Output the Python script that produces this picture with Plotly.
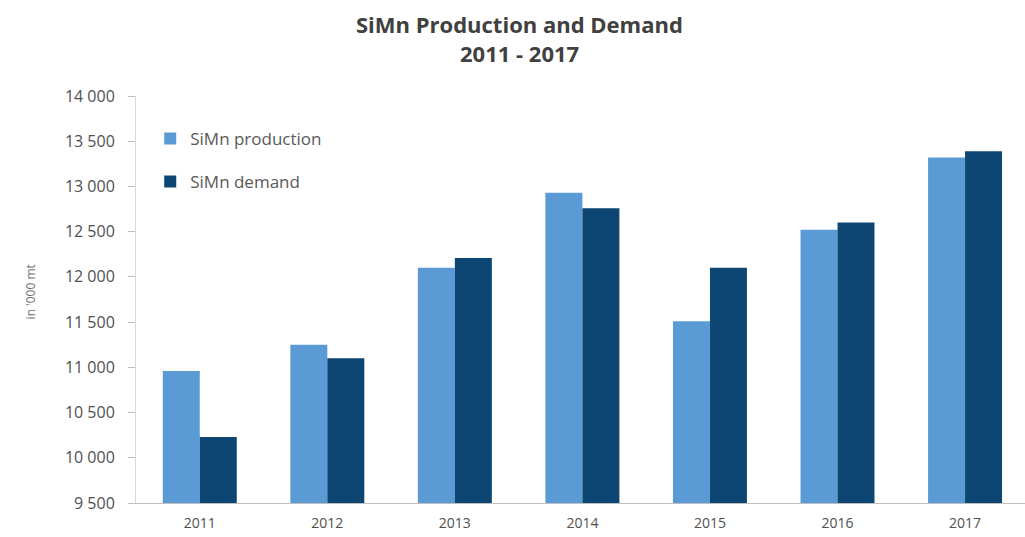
import plotly.graph_objects as go

years = ["2011", "2012", "2013", "2014", "2015", "2016", "2017"]
production = [10960, 11250, 12100, 12930, 11510, 12520, 13320]
demand = [10230, 11100, 12210, 12760, 12100, 12600, 13390]

title_main = "SiMn Production and Demand"
title_years = "2011 - 2017"
y_title = "in '000 mt"

fig = go.Figure()
fig.add_trace(go.Bar(
    x=years, y=production, name="SiMn production",
    marker=dict(color="#5b9bd5", line=dict(width=0)),
    legendgroup="p",
))
fig.add_trace(go.Bar(
    x=years, y=demand, name="SiMn demand",
    marker=dict(color="#0d4673", line=dict(width=0)),
    legendgroup="d",
))

# two-line heading and rotated unit label
fig.add_annotation(text=f"<b>{title_main}</b>", xref="paper", yref="paper",
                   x=0.431, y=1.177, xanchor="center", yanchor="middle",
                   showarrow=False,
                   font=dict(family="Open Sans", size=22, color="#404040"))
fig.add_annotation(text=f"<b>{title_years}</b>", xref="paper", yref="paper",
                   x=0.431, y=1.106, xanchor="center", yanchor="middle",
                   showarrow=False,
                   font=dict(family="Open Sans", size=22, color="#404040"))
fig.add_annotation(text=y_title, xref="paper", yref="paper",
                   x=-0.119, y=0.518, xanchor="center", yanchor="middle",
                   textangle=-90, showarrow=False,
                   font=dict(family="Open Sans", size=12, color="#6f6f6f"))

fig.update_layout(
    width=1025, height=537,
    margin=dict(l=136, r=0, t=96, b=34),
    paper_bgcolor="white", plot_bgcolor="white",
    separators=". ",
    barmode="group", bargap=0.42, bargroupgap=0,
    font=dict(family="Open Sans", color="#595959"),
    legend=dict(
        x=0.016, y=0.939, xanchor="left", yanchor="top",
        bgcolor="rgba(0,0,0,0)", tracegroupgap=18,
        font=dict(size=17, color="#595959"),
        itemwidth=30,
    ),
    xaxis=dict(
        range=[-0.5, 6.47], showgrid=False, showline=True,
        linecolor="#bfbfbf", linewidth=1, ticks="",
        ticklabelstandoff=7,
        tickfont=dict(size=14, color="#505050"),
    ),
    yaxis=dict(
        range=[9500, 14000], tick0=9500, dtick=500, tickformat=",d",
        showgrid=False, showline=True, linecolor="#d9d9d9", linewidth=1,
        ticks="outside", ticklen=7, tickcolor="#bfbfbf",
        ticklabelstandoff=10,
        tickfont=dict(size=16, color="#505050"),
    ),
)

fig.write_html("out.html")
